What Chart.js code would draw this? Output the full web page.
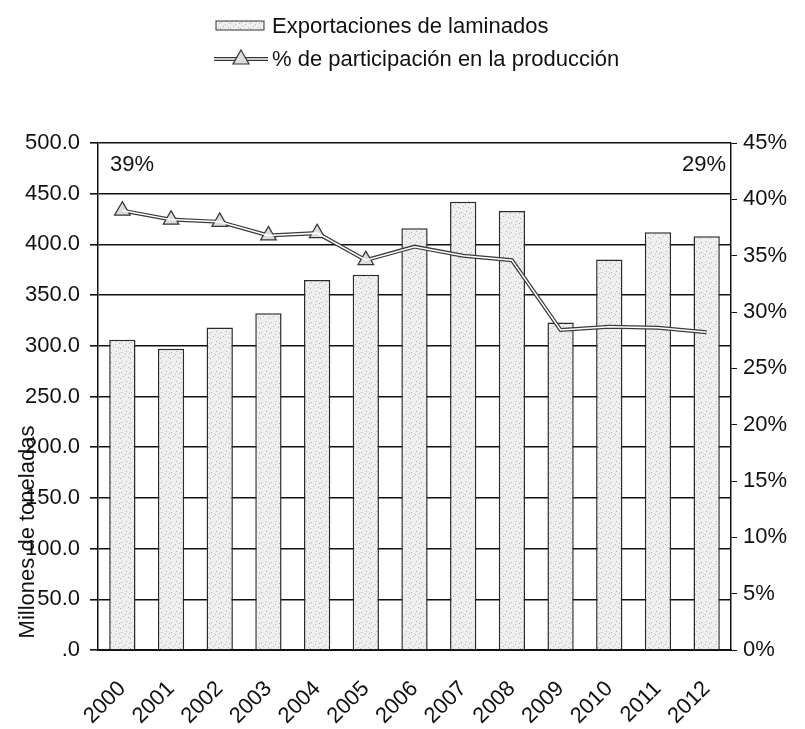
<!DOCTYPE html>
<html>
<head>
<meta charset="utf-8">
<script src="https://cdn.jsdelivr.net/npm/chart.js@4/dist/chart.umd.min.js"></script>
<style>
  html, body { margin: 0; padding: 0; background: #fff; }
  #wrap { width: 805px; height: 729px; position: relative; }
</style>
</head>
<body>
<div id="wrap"><canvas id="chart" width="805" height="729"></canvas></div>
<script>
// data
const years = ['2000', '2001', '2002', '2003', '2004', '2005', '2006', '2007', '2008', '2009', '2010', '2011', '2012'];
const exports = [306, 297, 318, 332, 365, 370, 416, 442, 433, 323, 385, 412, 408];
const share = [39.0, 38.2, 38.0, 36.8, 37.0, 34.6, 35.8, 35.0, 34.6, 28.4, 28.7, 28.6, 28.2];
const notes = ['39%', '29%'];
const barLabel = 'Exportaciones de laminados';
const lineLabel = '% de participación en la producción';
const yTitle = 'Millones de toneladas';

const FONT = '"Liberation Sans", Arial, sans-serif';
const SIZE = 22;

// speckled grey fill like the scanned bars
function speckle() {
    const c = document.createElement('canvas');
    c.width = 10; c.height = 10;
    const g = c.getContext('2d');
    g.fillStyle = '#efefef';
    g.fillRect(0, 0, 10, 10);
    g.fillStyle = '#b5b5b5';
    [[1, 2], [6, 1], [3, 6], [8, 7], [5, 4], [0, 8], [9, 3]].forEach(p => g.fillRect(p[0], p[1], 1, 1));
    return g.createPattern(c, 'repeat');
}
const barFill = speckle();

const extras = {
    id: 'extras',
    afterDraw(chart) {
        const ctx = chart.ctx;
        const area = chart.chartArea;
        ctx.save();
        ctx.font = SIZE + 'px ' + FONT;
        ctx.fillStyle = '#111';
        ctx.textBaseline = 'middle';

        // corner notes
        ctx.textAlign = 'left';
        ctx.fillText(notes[0], area.left + 12, 165);
        ctx.textAlign = 'right';
        ctx.fillText(notes[1], area.right - 5, 165);

        // axis title, sitting low and over the tick labels like the original
        ctx.save();
        ctx.translate(28, 532);
        ctx.rotate(-Math.PI / 2);
        ctx.textAlign = 'center';
        ctx.fillText(yTitle, 0, 0);
        ctx.restore();

        // legend, two left-aligned rows
        const lx = 216;
        const r1 = 26, r2 = 59;
        ctx.textAlign = 'left';
        ctx.fillStyle = barFill;
        ctx.fillRect(lx, r1 - 5, 48, 9);
        ctx.strokeStyle = '#333';
        ctx.lineWidth = 1;
        ctx.strokeRect(lx, r1 - 5, 48, 9);
        ctx.fillStyle = '#111';
        ctx.fillText(barLabel, lx + 56, r1 + 1);

        ctx.strokeStyle = '#333';
        ctx.lineWidth = 4;
        ctx.beginPath(); ctx.moveTo(lx - 2, r2); ctx.lineTo(lx + 52, r2); ctx.stroke();
        ctx.strokeStyle = '#fff';
        ctx.lineWidth = 1.5;
        ctx.beginPath(); ctx.moveTo(lx - 2, r2); ctx.lineTo(lx + 52, r2); ctx.stroke();
        ctx.beginPath();
        ctx.moveTo(lx + 25, r2 - 9); ctx.lineTo(lx + 33, r2 + 5); ctx.lineTo(lx + 17, r2 + 5); ctx.closePath();
        ctx.fillStyle = '#ddd'; ctx.fill();
        ctx.strokeStyle = '#333'; ctx.lineWidth = 1.2; ctx.stroke();
        ctx.fillStyle = '#111';
        ctx.fillText(lineLabel, lx + 56, r2 + 1);
        ctx.restore();
    }
};

new Chart(document.getElementById('chart'), {
    data: {
        labels: years,
        datasets: [
            {
                type: 'line',
                label: lineLabel,
                data: share,
                yAxisID: 'y1',
                borderColor: '#3a3a3a',
                borderWidth: 4,
                pointStyle: 'triangle',
                pointRadius: c => c.dataIndex < 6 ? 9 : 0,
                pointBackgroundColor: '#dcdcdc',
                pointBorderColor: '#333',
                pointBorderWidth: 1.2,
                order: 1
            },
            {
                type: 'line',
                label: '',
                data: share,
                yAxisID: 'y1',
                borderColor: '#ffffff',
                borderWidth: 1.5,
                pointRadius: 0,
                order: 0
            },
            {
                type: 'bar',
                label: barLabel,
                data: exports,
                yAxisID: 'y',
                backgroundColor: barFill,
                borderColor: '#2a2a2a',
                borderWidth: 1.5,
                barPercentage: 0.54,
                categoryPercentage: 1,
                order: 2
            }
        ]
    },
    options: {
        responsive: false,
        animation: false,
        layout: { padding: { top: 143, left: 0, right: 0, bottom: 0 } },
        plugins: {
            legend: { display: false },
            tooltip: { enabled: false }
        },
        scales: {
            x: {
                grid: { display: false, drawTicks: false },
                border: { color: '#111', width: 2 },
                ticks: {
                    color: '#111',
                    font: { family: FONT, size: SIZE },
                    minRotation: 45,
                    maxRotation: 45,
                    labelOffset: 0,
                    padding: 26
                },
                afterFit(s) { s.height = 79; }
            },
            y: {
                position: 'left',
                min: 0,
                max: 500,
                grid: { color: '#111', lineWidth: 1.6, tickLength: 8 },
                border: { color: '#111', width: 1.5 },
                ticks: {
                    stepSize: 50,
                    color: '#111',
                    font: { family: FONT, size: SIZE },
                    padding: 10,
                    callback: v => v === 0 ? '.0' : v.toFixed(1)
                },
                afterFit(s) { s.width = 98; }
            },
            y1: {
                position: 'right',
                min: 0,
                max: 45,
                grid: { drawOnChartArea: false, color: '#111', tickLength: 6 },
                border: { color: '#111', width: 1.5 },
                ticks: {
                    stepSize: 5,
                    color: '#111',
                    font: { family: FONT, size: SIZE },
                    padding: 6,
                    callback: v => v + '%'
                },
                afterFit(s) { s.width = 74; }
            }
        }
    },
    plugins: [extras]
});
</script>
</body>
</html>
